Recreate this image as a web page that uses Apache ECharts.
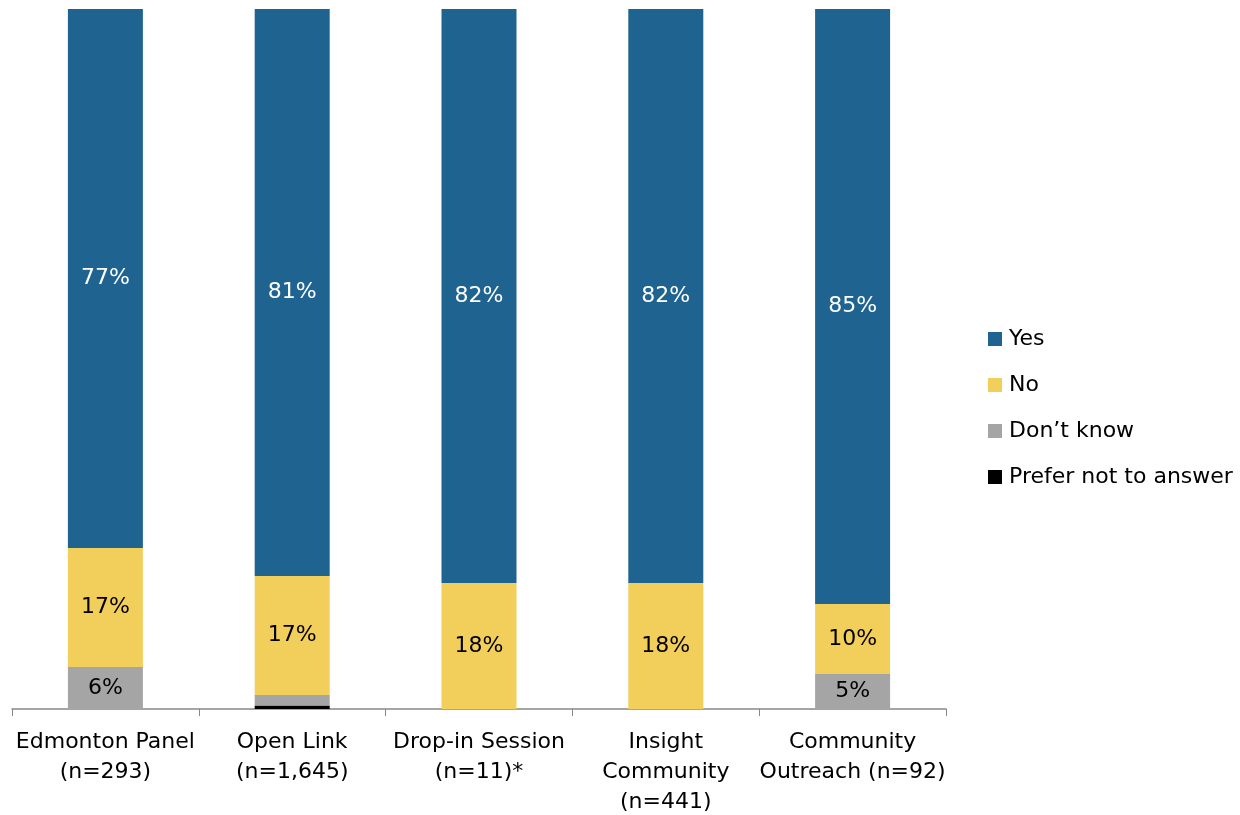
<!DOCTYPE html>
<html><head><meta charset="utf-8">
<script src="https://cdn.jsdelivr.net/npm/echarts@6/dist/echarts.min.js"></script>
<style>html,body{margin:0;padding:0;background:#fff}#c{width:1240px;height:815px}</style>
</head><body><div id="c"></div>
<script>
const categories = ['Edmonton Panel\n(n=293)', 'Open Link\n(n=1,645)', 'Drop-in Session\n(n=11)*', 'Insight\nCommunity\n(n=441)', 'Community\nOutreach (n=92)'];
const yesValues = [77, 81, 82, 82, 85];
const noValues = [17, 17, 18, 18, 10];
const dontKnowValues = [6, 1.5, 0, 0, 5];
const preferNotValues = [0, 0.5, 0, 0, 0];

const FONT = 'DejaVu Sans';
const chart = echarts.init(document.getElementById('c'));
function mk(name, data, color, labelColor) {
  return {
    name, type: 'bar', stack: 'total', data, barWidth: 75,
    itemStyle: { color },
    label: {
      show: true, position: 'inside', color: labelColor, fontFamily: FONT, fontSize: 22,
      formatter: p => p.value >= 3 ? Math.round(p.value) + '%' : ''
    }
  };
}
chart.setOption({
  animation: false,
  grid: { left: 12, right: 294, top: 9, bottom: 106, containLabel: false, outerBoundsMode: 'none' },
  xAxis: {
    type: 'category', data: categories,
    axisLine: { lineStyle: { color: '#888', width: 1.5 } },
    axisTick: { show: true, length: 7, lineStyle: { color: '#888' } },
    axisLabel: { color: '#000', fontFamily: FONT, fontSize: 22, lineHeight: 30, margin: 18, interval: 0 }
  },
  yAxis: { type: 'value', min: 0, max: 100, show: false, splitLine: { show: false } },
  legend: {
    orient: 'vertical', left: 983, top: 323, itemWidth: 14, itemHeight: 14, itemGap: 24,
    icon: 'rect',
    textStyle: { fontFamily: FONT, fontSize: 22, color: '#000', padding: [0, 0, 0, 2] },
    data: ['Yes', 'No', 'Don\u2019t know', 'Prefer not to answer']
  },
  series: [
    mk('Prefer not to answer', preferNotValues, '#000000', '#fff'),
    mk('Don\u2019t know', dontKnowValues, '#A5A5A5', '#000'),
    mk('No', noValues, '#F2CE5B', '#000'),
    mk('Yes', yesValues, '#1F6391', '#fff')
  ]
});
</script></body></html>
